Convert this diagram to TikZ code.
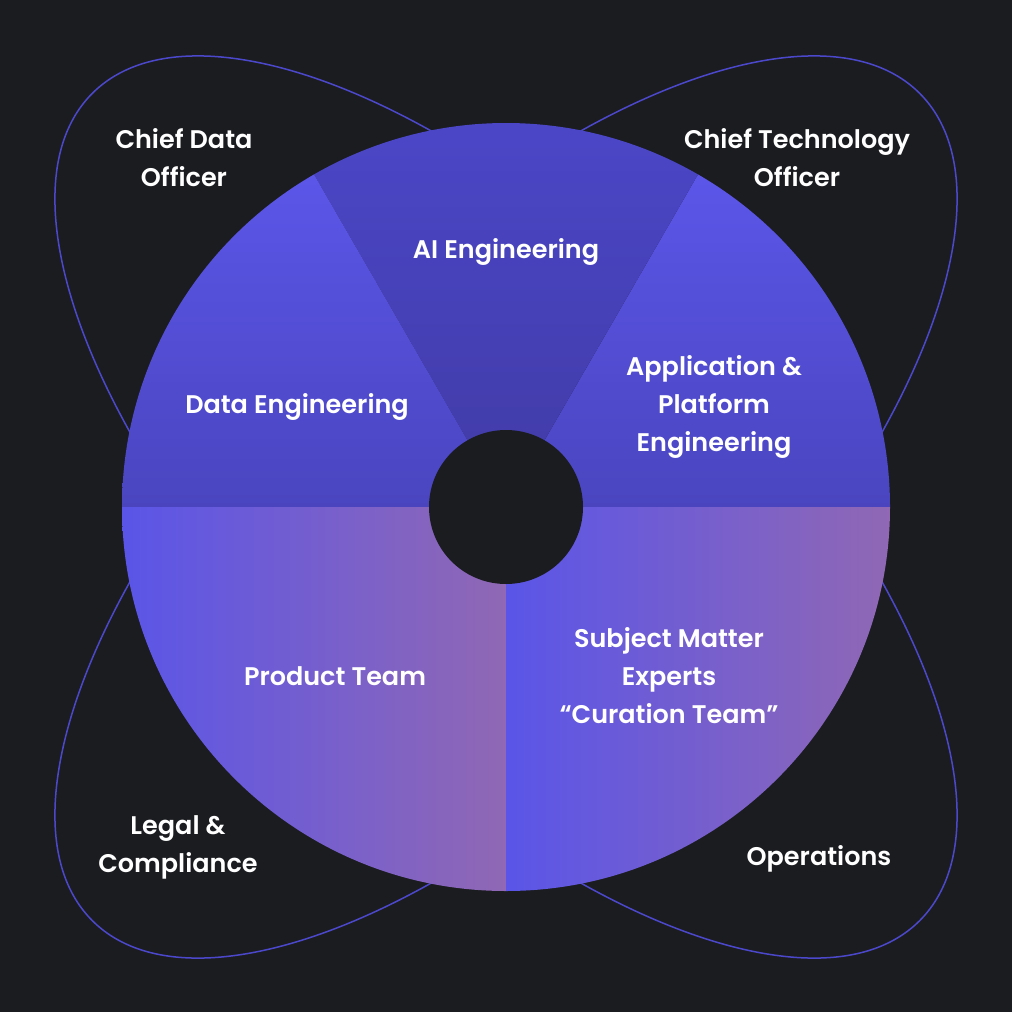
\documentclass[tikz,border=0pt]{standalone}
\usepackage{fontspec}
\setmainfont{Poppins}[UprightFont={* SemiBold}]
\definecolor{bg}{HTML}{1B1C20}
\definecolor{ringc}{HTML}{4C48CC}
\definecolor{upTop}{HTML}{5B56E8}
\definecolor{upBot}{HTML}{4A45BF}
\definecolor{aiTop}{HTML}{4B47C8}
\definecolor{aiBot}{HTML}{413BA6}
\definecolor{loLeft}{HTML}{5A55E8}
\definecolor{loRight}{HTML}{9068B4}
\begin{document}
\begin{tikzpicture}[x=1pt,y=1pt,
  lbl/.style={text=white, align=center, inner sep=0pt, font=\fontsize{25.5}{38}\selectfont},
  ring/.style={draw=ringc, line width=1.5pt}]
\fill[bg] (0,0) rectangle (1012,-1012);
\useasboundingbox (0,0) rectangle (1012,-1012);
\coordinate (c) at (506,-507);
% orbit ellipses
\draw[ring, rotate around={-45:(c)}] (c) ellipse [x radius=585pt, y radius=254pt];
\draw[ring, rotate around={45:(c)}] (c) ellipse [x radius=585pt, y radius=254pt];
% upper sectors
\shade[top color=upTop, bottom color=upBot] (c) -- ++(0:384pt) arc[start angle=0, end angle=60, radius=384pt] -- cycle;
\shade[top color=aiTop, bottom color=aiBot] (c) -- ++(60:384pt) arc[start angle=60, end angle=120, radius=384pt] -- cycle;
\shade[top color=upTop, bottom color=upBot] (c) -- ++(120:384pt) arc[start angle=120, end angle=180, radius=384pt] -- cycle;
% lower sectors
\shade[left color=loLeft, right color=loRight] (c) -- ++(180:384pt) arc[start angle=180, end angle=270, radius=384pt] -- cycle;
\shade[left color=loLeft, right color=loRight] (c) -- ++(270:384pt) arc[start angle=270, end angle=360, radius=384pt] -- cycle;
% hole
\fill[bg] (c) circle[radius=77pt];
% labels
\node[lbl] (cdo) at (184,-158) {Chief Data\\Officer};
\node[lbl] (cto) at (797,-158) {Chief Technology\\Officer};
\node[lbl] (ai) at (506,-252) {AI Engineering};
\node[lbl] (de) at (297,-407) {Data Engineering};
\node[lbl] (ape) at (714,-407) {Application \&\\Platform\\Engineering};
\node[lbl] (pt) at (335,-676) {Product Team};
\node[lbl] (sme) at (669,-676) {Subject Matter\\Experts\\“Curation Team”};
\node[lbl] (lc) at (178,-847) {Legal \&\\Compliance};
\node[lbl] (ops) at (819,-859) {Operations};
\end{tikzpicture}
\end{document}
